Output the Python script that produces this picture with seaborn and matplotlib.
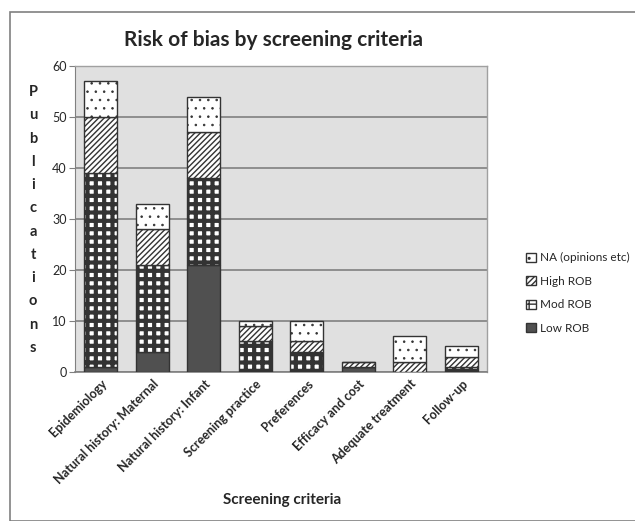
import matplotlib
matplotlib.use("Agg")
import matplotlib.pyplot as plt
import seaborn as sns
import numpy as np
import pandas as pd
from matplotlib.patches import Rectangle, Patch

categories = ["Epidemiology", "Natural history: Maternal", "Natural history: Infant",
              "Screening practice", "Preferences", "Efficacy and cost",
              "Adequate treatment", "Follow-up"]
low_rob = [1, 4, 21, 0, 0, 1, 0, 0]
mod_rob = [38, 17, 17, 6, 4, 0, 0, 1]
high_rob = [11, 7, 9, 3, 2, 1, 2, 2]
na_rob = [7, 5, 7, 1, 4, 0, 5, 2]
series_names = ["Low ROB", "Mod ROB", "High ROB", "NA (opinions etc)"]
yticks = [0, 10, 20, 30, 40, 50, 60]

sns.set_style("white")
plt.rcParams['font.family'] = ['Lato', 'DejaVu Sans']

fig = plt.figure(figsize=(6.35, 5.21), dpi=100)
ax = fig.add_axes([75/635, 1-372/521, 412/635, 306/521])
ax.set_facecolor("#e0e0e0")

styles = [
    dict(color="#505050", hatch=None, hlw=1.0),
    dict(color="white", hatch="++", hlw=3.0),
    dict(color="white", hatch="//////", hlw=1.0),
    dict(color="white", hatch="..", hlw=0.6),
]
layers = [low_rob, mod_rob, high_rob, na_rob]
df = pd.DataFrame({"cat": categories})
bottom = np.zeros(len(categories))
for vals, st in zip(layers, styles):
    df["v"] = vals
    with plt.rc_context({"hatch.linewidth": st["hlw"]}):
        n0 = len(ax.patches)
        sns.barplot(data=df, x="cat", y="v", order=categories, bottom=bottom,
                    color=st["color"], hatch=st["hatch"], edgecolor="#333333",
                    linewidth=1.0, width=0.65, saturation=1, ax=ax, zorder=3)
        for p in ax.patches[n0:]:
            p.set_facecolor(st["color"])
            if hasattr(p, "set_hatch_linewidth"):
                p.set_hatch_linewidth(st["hlw"])
    bottom = bottom + np.array(vals)

ax.set_ylim(0, 60)
ax.set_xlim(-0.5, len(categories) - 0.5)
ax.set_yticks(yticks)
ax.set_yticklabels([str(t) for t in yticks], fontsize=9)
ax.yaxis.grid(True, color="#808080", linewidth=1.2, zorder=0)
ax.set_axisbelow(True)
for s in ["top", "right"]:
    ax.spines[s].set_color("#a0a0a0")
    ax.spines[s].set_linewidth(1.0)
ax.spines["left"].set_color("#808080")
ax.spines["bottom"].set_color("#808080")
ax.spines["bottom"].set_linewidth(1.2)
ax.tick_params(axis="y", length=4, color="#808080", pad=2, left=True)
ax.tick_params(axis="x", length=0, pad=4)
ax.set_xticks(range(len(categories)))
ax.set_xticklabels(categories, rotation=45, ha="right", rotation_mode="anchor",
                   fontsize=9, fontweight="bold")
ax.set_xlabel("")
ax.set_ylabel("")

fig.text(0.43, 1-40/521, "Risk of bias by screening criteria", ha="center",
         va="center", fontsize=15, fontweight="bold")
fig.text(282/635, 1-500/521, "Screening criteria", ha="center", va="center",
         fontsize=11, fontweight="bold")
fig.text(33/635, 1-220/521, "\n".join("Publications"), ha="center", va="center",
         fontsize=10.5, fontweight="bold", linespacing=1.84)

handles = []
for name, st in zip(series_names, styles):
    handles.append(Patch(facecolor=st["color"], edgecolor="#333333",
                         hatch=st["hatch"], label=name))
with plt.rc_context({"hatch.linewidth": 1.0}):
    leg = fig.legend(handles[::-1], series_names[::-1], loc="center left",
                     bbox_to_anchor=(518/635, 1-293/521), frameon=False,
                     fontsize=8.5, handlelength=0.8, handleheight=0.8,
                     handletextpad=0.35, labelspacing=1.05, borderpad=0.2)

fig.patches.append(Rectangle((10/635, 0), 1.0, 1-12/521, transform=fig.transFigure,
                             fill=False, edgecolor="#808080", linewidth=1.2))

fig.savefig("out.png", dpi=100, facecolor="white")
